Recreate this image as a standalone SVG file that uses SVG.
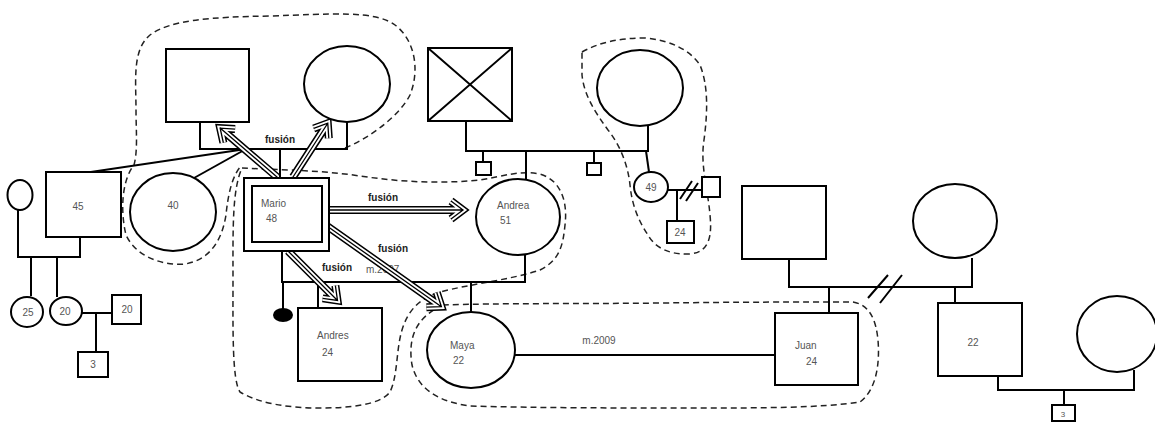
<svg xmlns="http://www.w3.org/2000/svg" width="1155" height="422" viewBox="0 0 1155 422">
<style>
.n{fill:#fff;stroke:#000;stroke-width:2}
.l{fill:none;stroke:#000;stroke-width:2}
.d{fill:none;stroke:#222;stroke-width:1.5;stroke-dasharray:6 4}
.t{font-family:"Liberation Sans",Arial,sans-serif;font-size:10px;fill:#555}
.f{font-family:"Liberation Sans",Arial,sans-serif;font-size:10px;font-weight:bold;fill:#222}
.a1{fill:none;stroke:#000;stroke-width:8}
.a2{fill:none;stroke:#fff;stroke-width:5}
.a3{fill:none;stroke:#000;stroke-width:1.3}
</style>
<defs>
<path id="p1" d="M0,0 H75 M63,-9 L75,0 L63,9"/>
<path id="p2" d="M0,0 H64 M52,-9 L64,0 L52,9"/>
<path id="p3" d="M0,0 H134 M122,-9 L134,0 L122,9"/>
<path id="p4" d="M0,0 H140 M128,-9 L140,0 L128,9"/>
<path id="p5" d="M0,0 H70 M58,-9 L70,0 L58,9"/>
</defs>
<rect width="1155" height="422" fill="#fff"/>

<g id="enclosures">
<path class="d" d="M345,148 C370,138 400,115 410,95 C420,70 415,40 395,25 C375,10 330,14 270,16 C210,17 170,20 150,35 C132,50 136,80 136,110 C136,130 138,150 134,165 C122,180 120,210 126,235 C135,255 160,266 185,264 C210,260 222,240 226,215 C228,195 232,175 242,165"/>
<path class="d" d="M242,168 C280,170 320,170 360,176 C400,182 440,184 480,180 C505,176 520,170 540,174 C560,180 568,200 565,225 C563,245 560,260 540,270 C510,280 470,284 440,292 C420,298 408,310 402,330 C396,350 398,375 390,392 C380,405 350,408 320,408 C290,408 260,404 240,392 C232,380 233,330 233,280 C233,230 232,190 242,168"/>
<path class="d" d="M582,52 C600,42 620,38 645,38 C670,40 690,50 700,65 C708,85 708,110 704,140 C700,165 708,190 710,215 C712,235 710,252 690,254 C670,255 655,248 648,235 C638,220 632,205 630,185 C628,165 620,145 608,130 C595,112 584,95 582,75 Z"/>
<path class="d" d="M443,305 C500,303 580,304 660,303 C740,302 800,302 853,302 C870,305 876,320 878,340 C880,365 876,390 860,402 C820,408 760,408 700,408 C620,408 540,408 470,406 C440,402 418,390 412,365 C408,340 414,318 443,305"/>
</g>

<g id="connectors">
<path class="l" d="M18,210 V257 H80 V237"/>
<path class="l" d="M31,257 V296"/>
<path class="l" d="M57,257 V297"/>
<path class="l" d="M82,313 H112"/>
<path class="l" d="M96,313 V352"/>
<path class="l" d="M84,173 L246,149"/>
<path class="l" d="M194,178 L246,149"/>
<path class="l" d="M200,122 V149 H347 V122"/>
<path class="l" d="M280,149 V178"/>
<path class="l" d="M282,251 V282 H525 V255"/>
<path class="l" d="M283,282 V310"/>
<path class="l" d="M318,282 V308"/>
<path class="l" d="M471,282 V312"/>
<path class="l" d="M466,121 V151 H648 V126"/>
<path class="l" d="M483,151 V162"/>
<path class="l" d="M526,151 V180"/>
<path class="l" d="M594,151 V163"/>
<path class="l" d="M646,151 L649,172"/>
<path class="l" d="M668,190 H702"/>
<path class="l" d="M677,190 V221"/>
<path class="l" d="M680,199 L692,181 M686,201 L698,183"/>
<path class="l" d="M515,355 H775"/>
<path class="l" d="M789,259 V287 H972 V258"/>
<path class="l" d="M868,298 L888,275 M880,303 L902,275"/>
<path class="l" d="M829,287 V313"/>
<path class="l" d="M955,287 V303"/>
<path class="l" d="M998,376 V390 H1134 V370"/>
<path class="l" d="M1064,390 V405"/>
</g>

<g id="labels">
<text class="f" x="280" y="143" text-anchor="middle">fusión</text>
<text class="f" x="383" y="201" text-anchor="middle">fusión</text>
<text class="f" x="393" y="252" text-anchor="middle">fusión</text>
<text class="f" x="337" y="271" text-anchor="middle">fusión</text>
<text class="t" x="366" y="273">m.2007</text>
<text class="t" x="599" y="344" text-anchor="middle">m.2009</text>
</g>

<g id="arrows">
<g transform="translate(277,177) rotate(-139.3)"><use href="#p1" class="a1"/><use href="#p1" class="a2"/><use href="#p1" class="a3"/></g>
<g transform="translate(293,177) rotate(-57.1)"><use href="#p2" class="a1"/><use href="#p2" class="a2"/><use href="#p2" class="a3"/></g>
<g transform="translate(329,210)"><use href="#p3" class="a1"/><use href="#p3" class="a2"/><use href="#p3" class="a3"/></g>
<g transform="translate(327,226) rotate(35.2)"><use href="#p4" class="a1"/><use href="#p4" class="a2"/><use href="#p4" class="a3"/></g>
<g transform="translate(288,251) rotate(45)"><use href="#p5" class="a1"/><use href="#p5" class="a2"/><use href="#p5" class="a3"/></g>
</g>

<g id="n-smallf"><ellipse class="n" cx="20" cy="195" rx="12.5" ry="15"/></g>
<g id="n-45"><rect class="n" x="46" y="172" width="75" height="65"/><text class="t" x="78" y="210" text-anchor="middle">45</text></g>
<g id="n-40"><ellipse class="n" cx="173" cy="212" rx="43" ry="39"/><text class="t" x="173" y="209" text-anchor="middle">40</text></g>
<g id="n-25"><ellipse class="n" cx="27" cy="312" rx="16" ry="15"/><text class="t" x="28" y="316" text-anchor="middle">25</text></g>
<g id="n-20f"><ellipse class="n" cx="66" cy="311" rx="16" ry="14"/><text class="t" x="65" y="315" text-anchor="middle">20</text></g>
<g id="n-20m"><rect class="n" x="112" y="295" width="29" height="29"/><text class="t" x="127" y="313" text-anchor="middle">20</text></g>
<g id="n-3"><rect class="n" x="78" y="352" width="30" height="25"/><text class="t" x="93" y="368" text-anchor="middle">3</text></g>

<g id="n-mario-father"><rect class="n" x="166" y="49" width="83" height="73"/></g>
<g id="n-mario-mother"><ellipse class="n" cx="347" cy="84" rx="43" ry="38"/></g>
<g id="n-mario"><rect class="n" x="244" y="178" width="85" height="73"/><rect class="n" x="252" y="186" width="70" height="56"/><text class="t" x="261" y="207">Mario</text><text class="t" x="266" y="222">48</text></g>
<g id="n-andrea"><ellipse class="n" cx="518" cy="217" rx="42" ry="38"/><text class="t" x="497" y="209">Andrea</text><text class="t" x="500" y="224">51</text></g>
<g id="n-black"><ellipse cx="283" cy="315" rx="10" ry="7" fill="#000"/></g>
<g id="n-andres"><rect class="n" x="298" y="308" width="84" height="73"/><text class="t" x="317" y="339">Andres</text><text class="t" x="322" y="356">24</text></g>
<g id="n-maya"><ellipse class="n" cx="471" cy="350" rx="44" ry="38"/><text class="t" x="450" y="349">Maya</text><text class="t" x="453" y="364">22</text></g>

<g id="n-andrea-father"><rect class="n" x="428" y="48" width="84" height="73"/><path class="l" d="M428,48 L512,121 M512,48 L428,121"/></g>
<g id="n-andrea-mother"><ellipse class="n" cx="640" cy="88" rx="43" ry="38"/></g>
<g id="n-sib1"><rect class="n" x="476" y="162" width="15" height="13"/></g>
<g id="n-sib2"><rect class="n" x="587" y="163" width="14" height="12"/></g>
<g id="n-49"><ellipse class="n" cx="651" cy="187" rx="17" ry="15"/><text class="t" x="651" y="191" text-anchor="middle">49</text></g>
<g id="n-49h"><rect class="n" x="702" y="177" width="18" height="20"/></g>
<g id="n-24s"><rect class="n" x="667" y="221" width="27" height="22"/><text class="t" x="680" y="236" text-anchor="middle">24</text></g>

<g id="n-juan-father"><rect class="n" x="742" y="186" width="84" height="73"/></g>
<g id="n-juan-mother"><ellipse class="n" cx="955" cy="221" rx="42" ry="37"/></g>
<g id="n-juan"><rect class="n" x="775" y="313" width="83" height="72"/><text class="t" x="795" y="349">Juan</text><text class="t" x="806" y="365">24</text></g>
<g id="n-22"><rect class="n" x="938" y="303" width="84" height="73"/><text class="t" x="973" y="346" text-anchor="middle">22</text></g>
<g id="n-22w"><ellipse class="n" cx="1117" cy="334" rx="40" ry="38"/></g>
<g id="n-child"><rect class="n" x="1052" y="405" width="23" height="16"/><text class="t" x="1063" y="417" text-anchor="middle" style="font-size:8px">3</text></g>
</svg>
